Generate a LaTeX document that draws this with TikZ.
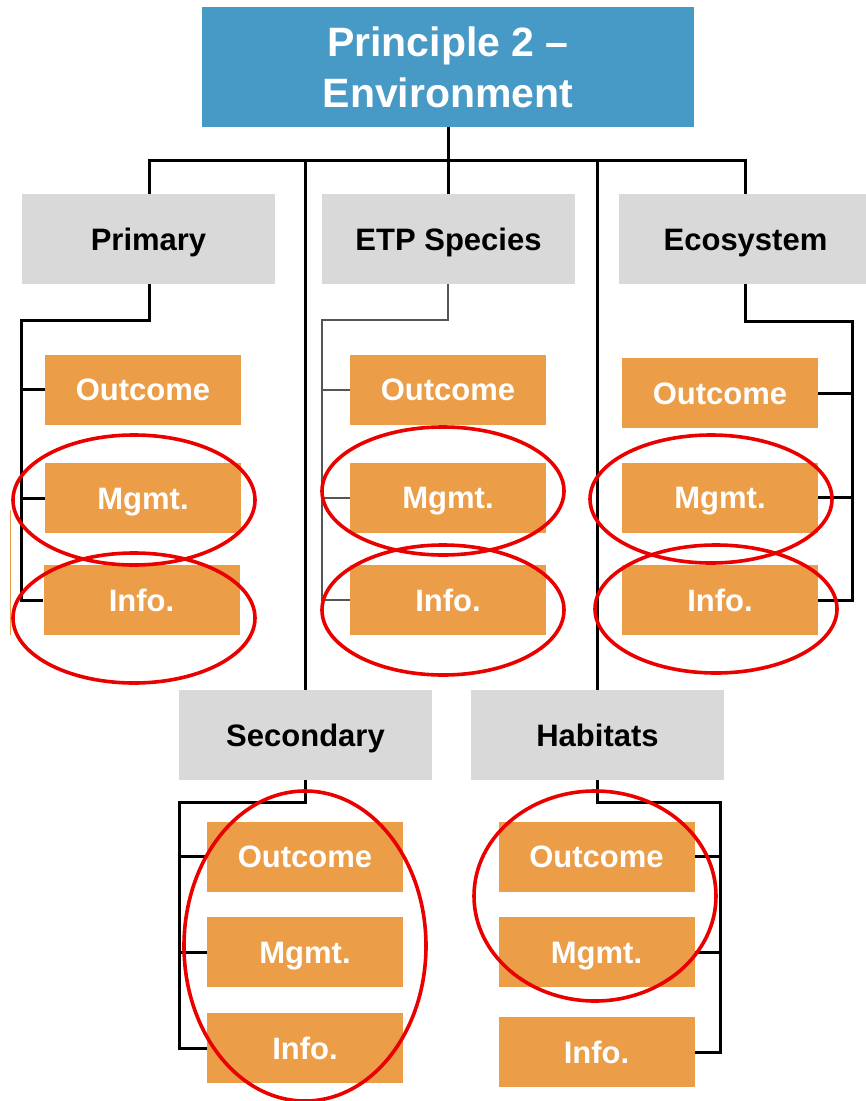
\documentclass[tikz,border=0pt]{standalone}
\usepackage{fontspec}
\setmainfont{Liberation Sans}
\definecolor{headblue}{RGB}{71,153,198}
\definecolor{catgray}{RGB}{217,217,217}
\definecolor{pinorange}{RGB}{236,157,72}
\definecolor{ringred}{RGB}{235,0,0}
\definecolor{linkgray}{RGB}{85,85,85}
\begin{document}
\begin{tikzpicture}[x=1pt,y=-1pt,
  headbox/.style={rectangle,fill=headblue,inner sep=0pt,minimum width=492pt,minimum height=120pt,
    text=white,font=\fontsize{41}{51}\selectfont\bfseries,align=center},
  catbox/.style={rectangle,fill=catgray,inner sep=0pt,minimum width=253pt,minimum height=90pt,
    text=black,font=\fontsize{31}{34}\selectfont\bfseries,text height=22pt,text depth=0pt},
  pibox/.style={rectangle,fill=pinorange,inner sep=0pt,minimum width=196pt,minimum height=70pt,
    text=white,font=\fontsize{31}{34}\selectfont\bfseries,text height=22pt,text depth=0pt},
  link/.style={draw=black,line width=3pt},
  thinlink/.style={draw=linkgray,line width=2pt},
  ring/.style={draw=ringred,line width=3.6pt}]
\useasboundingbox (0,0) rectangle (866,1101);

% header and categories
\node[headbox] (top) at (448,67) {Principle 2 --\\Environment};
\node[catbox] (prim) at (148.5,239) {Primary};
\node[catbox] (etp) at (448.5,239) {ETP Species};
\node[catbox] (eco) at (745.5,239) {Ecosystem};
\node[catbox] (sec) at (305.5,735) {Secondary};
\node[catbox] (hab) at (597.5,735) {Habitats};

% performance indicator boxes
\node[pibox] (pO) at (143,389.5) {Outcome};
\node[pibox] (pM) at (143,498) {Mgmt.};
\node[pibox] (pI) at (141.5,600) {Info.};
\node[pibox] (eO) at (448,389.5) {Outcome};
\node[pibox] (eM) at (448,497.5) {Mgmt.};
\node[pibox] (eI) at (448,600) {Info.};
\node[pibox] (cO) at (720,393) {Outcome};
\node[pibox] (cM) at (720,497.5) {Mgmt.};
\node[pibox] (cI) at (720,600) {Info.};
\node[pibox] (sO) at (305,856.5) {Outcome};
\node[pibox] (sM) at (305,952) {Mgmt.};
\node[pibox] (sI) at (305,1048) {Info.};
\node[pibox] (hO) at (596.5,856.5) {Outcome};
\node[pibox] (hM) at (596.5,952) {Mgmt.};
\node[pibox] (hI) at (596.5,1052) {Info.};

% stray edge mark
\draw[pinorange,line width=1pt] (10,510) -- (10,635);

% main bus
\coordinate (busL) at (149,160);
\coordinate (busR) at (745,160);
\draw[link] (top.south) -- (top.south |- busL);
\draw[link] ([xshift=-1.5pt]busL) -- ([xshift=1.5pt]busR);
\draw[link] (busL) -- (busL |- prim.north);
\draw[link] (etp.north -| top.south) -- (top.south |- busL);
\draw[link] (busR) -- (busR |- eco.north);
\draw[link] (sec.north) -- (sec.north |- busL);
\draw[link] (hab.north) -- (hab.north |- busL);

% Primary branch
\coordinate (pRail) at (21,320);
\draw[link] (busL |- prim.south) |- (pRail) -- (pRail |- pI.west) -- (pI.west);
\draw[link] (pRail |- pO.west) -- (pO.west);
\draw[link] (pRail |- pM.west) -- (pM.west);

% ETP branch
\coordinate (eRail) at (322,320);
\draw[thinlink] (top.south |- etp.south) |- (eRail) -- (eRail |- eI.west) -- (eI.west);
\draw[thinlink] (eRail |- eO.west) -- (eO.west);
\draw[thinlink] (eRail |- eM.west) -- (eM.west);

% Ecosystem branch
\coordinate (cRail) at (852,321);
\draw[link] (busR |- eco.south) |- (cRail) -- (cRail |- cI.east) -- (cI.east);
\draw[link] (cRail |- cO.east) -- (cO.east);
\draw[link] (cRail |- cM.east) -- (cM.east);

% Secondary branch
\coordinate (sRail) at (179,802);
\draw[link] (sec.south) |- (sRail) -- (sRail |- sI.west) -- (sI.west);
\draw[link] (sRail |- sO.west) -- (sO.west);
\draw[link] (sRail |- sM.west) -- (sM.west);

% Habitats branch
\coordinate (hRail) at (720,802);
\draw[link] (hab.south) |- (hRail) -- (hRail |- hI.east) -- (hI.east);
\draw[link] (hRail |- hO.east) -- (hO.east);
\draw[link] (hRail |- hM.east) -- (hM.east);

% highlight rings
\draw[ring] (134,500) ellipse [x radius=121, y radius=65];
\draw[ring] (134,618) ellipse [x radius=121, y radius=65];
\draw[ring] (443,491) ellipse [x radius=121, y radius=64];
\draw[ring] (443,610) ellipse [x radius=121, y radius=65];
\draw[ring] (711,499) ellipse [x radius=121, y radius=64];
\draw[ring] (716,609) ellipse [x radius=121, y radius=64];
\draw[ring] (305,946) ellipse [x radius=121, y radius=155];
\draw[ring] (595,896) ellipse [x radius=121, y radius=105];
\end{tikzpicture}
\end{document}
